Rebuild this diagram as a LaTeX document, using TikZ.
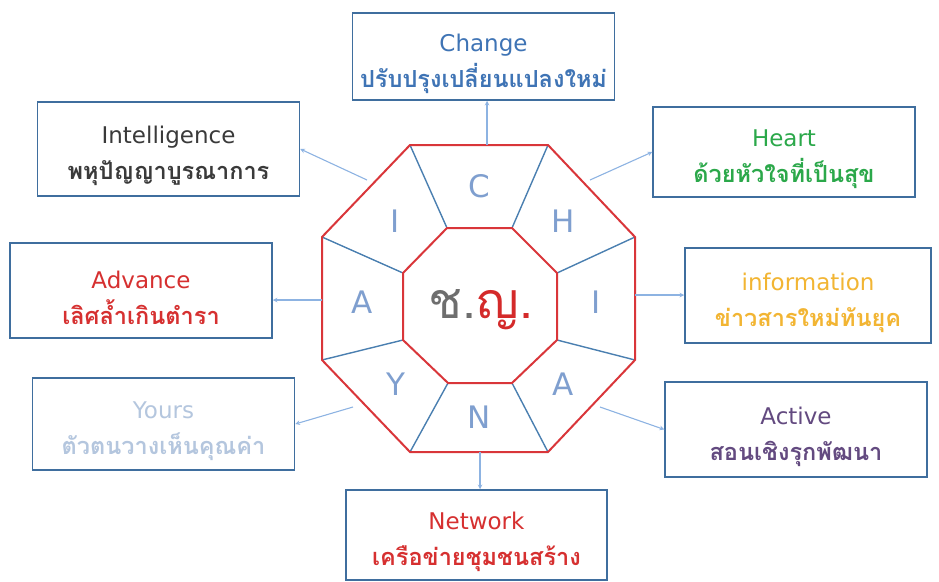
\documentclass[tikz,border=0pt]{standalone}
\usepackage{fontspec}
\setmainfont{DejaVu Sans}
\newfontfamily\thaifont[Script=Thai]{Loma}
\usetikzlibrary{calc}

\definecolor{boxline}{HTML}{3F6E9E}
\definecolor{spokeblue}{HTML}{4A7FB0}
\definecolor{ringred}{HTML}{D9363A}
\definecolor{linkblue}{HTML}{8DB3E2}
\definecolor{letterblue}{HTML}{7F9FCF}
\definecolor{chgrey}{HTML}{6E6E6E}
\definecolor{chred}{HTML}{D42A2A}
\definecolor{cblue}{HTML}{3F74B5}
\definecolor{igrey}{HTML}{3A3A3A}
\definecolor{hgreen}{HTML}{2BA84A}
\definecolor{ared}{HTML}{D63030}
\definecolor{ngold}{HTML}{F2B533}
\definecolor{ylight}{HTML}{B4C6DE}
\definecolor{apurple}{HTML}{634A80}

% two lines of a box: English word, then the Thai phrase
\newcommand{\boxtext}[3]{\textcolor{#1}{\rule{0pt}{32pt}#2}\\
  \textcolor{#1}{\thaifont\bfseries\fontsize{23.5}{23.5}\selectfont #3}}

\tikzset{
  box/.style={draw=boxline, line width=1.5pt, fill=white, align=center,
    inner sep=0pt, minimum width=262, minimum height=92,
    font=\fontsize{23}{36}\selectfont},
  letter/.style={text=letterblue, font=\fontsize{31}{31}\selectfont},
  spoke/.style={draw=spokeblue, line width=1.4pt},
  ring/.style={draw=ringred, line width=2pt},
  link/.style={->, draw=linkblue, line width=1.1pt},
}

\begin{document}
\begin{tikzpicture}[x=1pt, y=-1pt, >=stealth]
  \useasboundingbox (0,0) rectangle (939,581);

  % octagon corners, outer and inner
  \coordinate (o1) at (410,145); \coordinate (o2) at (548,145);
  \coordinate (o3) at (635,237); \coordinate (o4) at (635,360);
  \coordinate (o5) at (548,452); \coordinate (o6) at (410,452);
  \coordinate (o7) at (322,360); \coordinate (o8) at (322,237);
  \coordinate (i1) at (447,228); \coordinate (i2) at (512,228);
  \coordinate (i3) at (557,273); \coordinate (i4) at (557,340);
  \coordinate (i5) at (512,383); \coordinate (i6) at (448,383);
  \coordinate (i7) at (403,340); \coordinate (i8) at (403,273);

  \foreach \j in {1,...,8}
    \draw[spoke] (o\j) -- (i\j);
  \draw[ring] (o1) -- (o2) -- (o3) -- (o4) -- (o5) -- (o6) -- (o7) -- (o8) -- cycle;
  \draw[ring] (i1) -- (i2) -- (i3) -- (i4) -- (i5) -- (i6) -- (i7) -- (i8) -- cycle;

  \foreach \j/\n/\l in {1/2/C,2/3/H,3/4/I,4/5/A,5/6/N,6/7/Y,7/8/A,8/1/I}
    \node[letter] (l\j) at (barycentric cs:o\j=1,o\n=1,i\j=1,i\n=1) {\l};

  \node[font=\thaifont\fontsize{50}{50}\selectfont] (core) at (481,310)
    {\textcolor{chgrey}{ช.}\textcolor{chred}{ญ.}};

  % boxes
  \node[box, minimum height=87] (change) at (483.5,56.5)
    {\boxtext{cblue}{Change}{ปรับปรุงเปลี่ยนแปลงใหม่}};
  \node[box, minimum height=94] (intel) at (168.5,149)
    {\boxtext{igrey}{Intelligence}{พหุปัญญาบูรณาการ}};
  \node[box, minimum height=90] (heart) at (784,152)
    {\boxtext{hgreen}{Heart}{ด้วยหัวใจที่เป็นสุข}};
  \node[box, minimum height=95] (advance) at (141,290.5)
    {\boxtext{ared}{Advance}{เลิศล้ำเกินตำรา}};
  \node[box, minimum width=246, minimum height=95] (info) at (808,295.5)
    {\boxtext{ngold}{information}{ข่าวสารใหม่ทันยุค}};
  \node[box, minimum height=92] (yours) at (163.5,424)
    {\boxtext{ylight}{Yours}{ตัวตนวางเห็นคุณค่า}};
  \node[box, minimum height=95] (active) at (796,429.5)
    {\boxtext{apurple}{Active}{สอนเชิงรุกพัฒนา}};
  \node[box, minimum width=261, minimum height=90] (network) at (476.5,535)
    {\boxtext{ared}{Network}{เครือข่ายชุมชนสร้าง}};

  % arrows out of the octagon
  \coordinate (sC) at (487,145);  \coordinate (sI) at (367,180);
  \coordinate (sH) at (590,180);  \coordinate (sAd) at (322,300);
  \coordinate (sIn) at (635,295); \coordinate (sY) at (353,407);
  \coordinate (sAc) at (600,407); \coordinate (sN) at (480,452);
  \draw[link] (sC) -- (sC |- change.south);
  \draw[link] (sI) -- (intel.east);
  \draw[link] (sH) -- (heart.west);
  \draw[link] (sAd) -- (sAd -| advance.east);
  \draw[link] (sIn) -- (sIn -| info.west);
  \draw[link] (sY) -- (yours.east);
  \draw[link] (sAc) -- (active.west);
  \draw[link] (sN) -- (sN |- network.north);
\end{tikzpicture}
\end{document}
